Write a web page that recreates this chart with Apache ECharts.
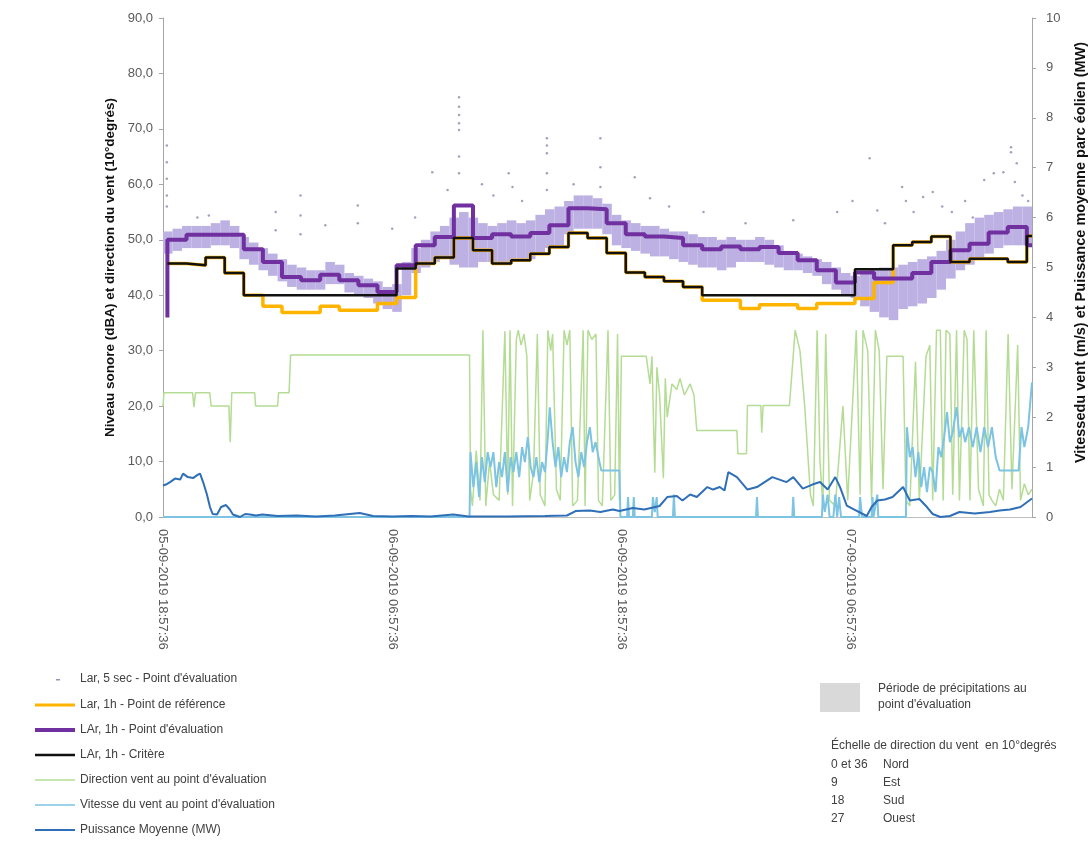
<!DOCTYPE html>
<html>
<head>
<meta charset="utf-8">
<title>Niveau sonore et vent</title>
<script src="https://cdn.jsdelivr.net/npm/echarts/dist/echarts.min.js"></script>
<style>
  html, body { margin: 0; padding: 0; background: #fff; }
  #main { width: 1091px; height: 842px; }
</style>
</head>
<body>
<div id="main"></div>
<script>
// x axis is hours since 05-09-2019 18:57:36
var xMax = 45.5;
var hourStart = 0.23;
var tickLabels = ['05-09-2019 18:57:36', '06-09-2019 06:57:36', '06-09-2019 18:57:36', '07-09-2019 06:57:36'];

// hourly levels (dBA), one value per hour from hourStart
var larRef1h = [45.7, 45.4, 46.8, 44.0, 40.0, 38.0, 36.9, 36.9, 38.0, 37.3, 37.3, 38.5, 39.6,
  45.7, 46.8, 50.3, 48.1, 45.7, 46.3, 47.5, 48.7, 51.2, 50.3, 47.6, 44.1, 43.3, 42.5, 41.5,
  39.1, 39.1, 37.6, 38.3, 38.3, 37.6, 38.5, 38.5, 39.4, 42.3,
  49.0, 49.6, 50.6, 46.0, 46.6, 46.6, 46.0, 50.7];
var larEval1h = [50.0, 50.9, 50.9, 50.9, 48.3, 46.0, 43.3, 42.7, 43.7, 42.7, 41.8, 40.6, 45.4,
  49.0, 50.5, 56.2, 50.3, 51.0, 50.6, 51.2, 52.6, 55.7, 55.5, 53.0, 51.0, 50.6, 50.3, 49.0,
  48.3, 48.8, 48.3, 48.7, 47.6, 46.3, 44.5, 42.3, 44.1, 43.0, 43.0, 44.0, 46.0, 48.1, 49.3,
  51.3, 52.3, 49.0];
var larCritere1h = [45.7, 45.4, 46.8, 44.0, 40.0, 40.0, 40.0, 40.0, 40.0, 40.0, 40.0, 40.0,
  44.8, 45.7, 46.8, 50.3, 48.1, 45.7, 46.3, 47.5, 48.7, 51.2, 50.3, 47.6, 44.1, 43.3, 42.5, 41.5,
  40.0, 40.0, 40.0, 40.0, 40.0, 40.0, 40.0, 40.0, 44.7, 44.7, 49.0, 49.6, 50.6, 46.0, 46.6,
  46.6, 46.0, 50.7];

// 5 sec levels: spread per half hour (low / high)
var band5sLow = [47.5, 48, 48.5, 48.5, 48.5, 49, 49, 48.5, 46.5, 45.5, 44.5, 43.5, 42.5, 41.5,
  41, 41, 41, 42, 42, 40.5, 40, 39.5, 38.5, 37.5, 37, 40, 44, 45, 46, 46.5, 45.5, 45, 45, 46,
  46, 46, 46, 46, 46.5, 47.5, 48.5, 49, 51, 52, 52, 52, 51, 49, 48.5, 48, 47.5, 47, 47, 46.5,
  46, 45.5, 45, 45, 44.5, 45, 46, 46, 46, 45.5, 45, 44.5, 44.5, 44, 43.5, 42, 41, 40, 39.5,
  38, 37, 36, 35.5, 37.5, 38, 38.5, 39.5, 41, 43, 44.5, 45.5, 46.5, 47.5, 48.5, 49, 49, 49];
var band5sHigh = [51.5, 52, 52.5, 52.5, 52.5, 53, 53.5, 52.5, 50.5, 49.5, 48.5, 47.5, 46.5, 45.5,
  45, 44.5, 44.5, 46, 45.5, 44, 43.5, 43, 42.5, 41.5, 42, 46, 48.5, 50, 51.5, 52.5, 54, 55, 54,
  53, 52.5, 53, 53.5, 53, 53.5, 54.5, 55.5, 56, 57, 58, 58, 57.5, 56.5, 54.5, 53.5, 53, 52.5,
  52.5, 52, 51.5, 51.5, 51, 50.5, 50.5, 50, 50.5, 50, 50, 50.5, 50, 49, 48, 47.5, 47, 46.5,
  46, 45, 44, 43.5, 44, 44.5, 45, 45, 45.5, 46, 46.5, 47, 48, 50, 51.5, 53, 54, 54.5, 55,
  55.5, 56, 56];
// isolated 5 sec points [hour, dBA]
var dots5s = [[0.2, 67], [0.2, 64], [0.2, 61], [0.2, 58], [0.2, 56], [1.8, 54], [2.4, 54.4],
  [5.9, 55], [5.9, 51.7], [7.2, 58], [7.2, 54.4], [7.2, 51], [8.5, 52.6], [10.2, 56.2],
  [10.2, 53], [12.0, 52], [13.2, 54], [14.1, 62.2], [14.9, 59], [15.5, 75.7], [15.5, 74],
  [15.5, 72.5], [15.5, 71], [15.5, 69.8], [15.5, 65], [15.5, 62], [16.7, 60], [17.3, 58],
  [18.1, 62], [18.3, 59.5], [18.8, 57], [20.1, 68.3], [20.1, 67], [20.1, 65.6], [20.1, 62],
  [20.1, 59], [21.5, 60], [22.9, 68.3], [22.9, 63.1], [22.9, 59.5], [24.7, 61.3], [25.5, 57.5],
  [26.5, 56], [28.3, 55], [30.5, 53], [33.0, 53.5], [35.3, 55], [36.1, 57], [37.0, 64.7],
  [37.4, 55.3], [37.8, 53], [38.7, 59.5], [38.9, 57], [39.3, 55], [39.8, 57.7], [40.3, 58.6],
  [40.8, 56], [41.3, 55], [42.0, 57], [42.4, 54], [43.0, 60.8], [43.5, 62], [44.0, 62.2],
  [44.4, 66.7], [44.4, 65.8], [44.7, 63.8], [44.6, 60.4], [45.0, 58], [45.3, 57]];

// wind direction (10 degrees) [hour, value]
var windDir = [[0, 20], [0.05, 22.4], [1.55, 22.4], [1.62, 19.8], [1.7, 22.4], [2.45, 22.4],
  [2.52, 20], [3.45, 20], [3.52, 13.5], [3.6, 22.4], [4.8, 22.4], [4.85, 20], [6.0, 20],
  [6.05, 22.4], [6.6, 22.4], [6.68, 29.2], [16.05, 29.2], [16.1, 5], [16.2, 2], [16.4, 12],
  [16.6, 3], [16.75, 33.7], [16.9, 2], [17.1, 10], [17.3, 4], [17.6, 3], [17.9, 33.5],
  [18.05, 4], [18.17, 33.7], [18.3, 2], [18.5, 32], [18.6, 33.7], [18.75, 31], [18.9, 33],
  [19.05, 29], [19.2, 3], [19.4, 8], [19.6, 33], [19.75, 4], [20.0, 2], [20.15, 33.7],
  [20.3, 30], [20.4, 33], [20.6, 5], [20.8, 3], [21.0, 33.7], [21.15, 31], [21.3, 33.7],
  [21.45, 2], [21.7, 3], [22.0, 33.7], [22.1, 2], [22.25, 33.7], [22.45, 32], [22.67, 33],
  [22.8, 3], [23.0, 2], [23.3, 33.7], [23.45, 3], [23.65, 4], [23.8, 33], [23.9, 3], [24.0, 29],
  [25.3, 29], [25.5, 24], [25.6, 29], [25.75, 8], [25.86, 27], [26.0, 22], [26.2, 7], [26.3, 25],
  [26.4, 18], [26.65, 24], [26.9, 23], [27.07, 25], [27.3, 22], [27.6, 24], [27.8, 22],
  [27.95, 15.6], [30.05, 15.6], [30.1, 11.4], [30.55, 11.4], [30.6, 20.1], [31.3, 20.1],
  [31.35, 15.2], [31.42, 20.1], [32.8, 20.1], [33.1, 33.7], [33.35, 30], [33.6, 20], [33.9, 4],
  [34.05, 2], [34.25, 33.7], [34.4, 10], [34.55, 2], [34.7, 33], [34.9, 3], [35.2, 2],
  [35.6, 20], [35.85, 3], [36.3, 33.7], [36.5, 4], [36.65, 33.7], [36.9, 30], [37.1, 3],
  [37.3, 33.7], [37.5, 30], [37.7, 5], [37.9, 29], [38.75, 29], [38.9, 3], [39.1, 2], [39.4, 28],
  [39.6, 3], [39.95, 29], [40.15, 31], [40.3, 3], [40.5, 33.7], [40.7, 33.7], [40.85, 3],
  [41.0, 33.7], [41.2, 33], [41.35, 4], [41.55, 33.7], [41.7, 3], [41.95, 33.7], [42.1, 32],
  [42.25, 3], [42.45, 33.7], [42.7, 5], [42.95, 2], [43.1, 33.7], [43.25, 4], [43.4, 3],
  [43.6, 2], [43.8, 5], [44.0, 3], [44.25, 33], [44.45, 5], [44.75, 31], [44.9, 3], [45.1, 6],
  [45.3, 4], [45.5, 5]];

// wind speed (m/s) [hour, value]
var windSpeed = [[0, 0], [16.05, 0], [16.1, 1.3], [16.25, 0.6], [16.4, 1.1], [16.55, 0.4],
  [16.7, 1.2], [16.85, 0.7], [17.0, 1.3], [17.15, 1.0], [17.3, 1.3], [17.45, 0.6], [17.6, 1.1],
  [17.75, 0.8], [17.9, 1.3], [18.05, 0.5], [18.2, 1.2], [18.35, 0.9], [18.5, 1.3], [18.65, 0.8],
  [18.8, 1.4], [18.95, 1.1], [19.1, 1.6], [19.25, 1.0], [19.4, 0.8], [19.55, 1.2], [19.7, 0.7],
  [19.85, 1.1], [20.0, 0.9], [20.15, 1.6], [20.25, 2.2], [20.4, 1.5], [20.55, 1.0], [20.7, 1.4],
  [20.85, 0.8], [21.0, 1.2], [21.15, 0.9], [21.3, 1.5], [21.45, 1.8], [21.6, 1.1], [21.75, 0.8],
  [21.9, 1.3], [22.05, 1.0], [22.2, 1.5], [22.35, 1.8], [22.5, 1.3], [22.65, 1.5], [22.8, 1.2],
  [22.95, 0.93], [23.9, 0.93], [23.95, 0], [24.3, 0], [24.35, 0.4], [24.4, 0], [24.6, 0],
  [24.65, 0.4], [24.7, 0], [25.6, 0], [25.65, 0.4], [25.75, 0.1], [25.85, 0.4], [25.9, 0],
  [26.7, 0], [26.75, 0.45], [26.8, 0], [31.05, 0], [31.1, 0.4], [31.15, 0], [32.95, 0],
  [33.0, 0.4], [33.05, 0], [34.5, 0], [34.55, 0.45], [34.65, 0.1], [34.8, 0.45], [34.9, 0],
  [35.1, 0], [35.2, 0.45], [35.3, 0], [35.4, 0.4], [35.5, 0], [36.45, 0], [36.5, 0.4], [36.6, 0],
  [37.1, 0], [37.15, 0.4], [37.2, 0], [37.4, 0.45], [37.45, 0], [38.9, 0], [38.95, 1.8],
  [39.1, 1.2], [39.25, 1.4], [39.4, 0.8], [39.55, 1.3], [39.7, 0.6], [39.85, 1.0], [40.0, 0.5],
  [40.15, 1.0], [40.3, 0.9], [40.45, 0.5], [40.6, 1.4], [40.75, 1.2], [40.9, 1.6], [41.05, 2.1],
  [41.2, 1.5], [41.35, 1.7], [41.55, 2.2], [41.7, 1.6], [41.85, 1.8], [42.0, 1.5], [42.2, 1.8],
  [42.4, 1.4], [42.6, 1.8], [42.8, 1.3], [43.0, 1.8], [43.2, 1.4], [43.4, 1.8], [43.6, 1.2],
  [43.8, 0.93], [44.8, 0.93], [44.95, 1.8], [45.1, 1.4], [45.3, 1.8], [45.5, 2.7]];

// mean power of the wind farm (MW) [hour, value]
var power = [[0, 0.63], [0.15, 0.65], [0.37, 0.7], [0.63, 0.77], [0.9, 0.75], [1.05, 0.87],
  [1.3, 0.8], [1.57, 0.78], [1.83, 0.85], [1.94, 0.87], [2.1, 0.7], [2.3, 0.45], [2.46, 0.2],
  [2.6, 0.06], [2.83, 0.05], [3.04, 0.2], [3.3, 0.24], [3.5, 0.15], [3.66, 0.05], [4.03, 0.0],
  [4.3, 0.06], [4.55, 0.05], [4.87, 0.03], [5.2, 0.05], [6, 0.02], [7, 0.03], [8, 0.01],
  [9, 0.03], [10.3, 0.08], [11, 0.02], [12, 0.01], [13, 0.02], [14, 0.01], [15.2, 0.05],
  [16, 0.01], [18, 0.01], [20, 0.02], [21.15, 0.03], [21.6, 0.12], [22.35, 0.13], [22.9, 0.1],
  [23.55, 0.15], [23.9, 0.12], [24.6, 0.18], [25.2, 0.15], [26.0, 0.22], [26.4, 0.4],
  [26.9, 0.42], [27.2, 0.33], [27.6, 0.45], [27.95, 0.4], [28.5, 0.6], [28.8, 0.55],
  [29.15, 0.6], [29.4, 0.53], [29.6, 0.9], [30.05, 0.8], [30.6, 0.55], [31.1, 0.6], [31.5, 0.7],
  [31.9, 0.8], [32.65, 0.7], [33.0, 0.8], [33.5, 0.57], [34.0, 0.65], [34.4, 0.7], [34.8, 0.55],
  [35.2, 0.8], [35.45, 0.6], [35.8, 0.23], [36.2, 0.15], [36.85, 0.02], [37.1, 0.2],
  [37.4, 0.33], [37.8, 0.35], [38.2, 0.4], [38.75, 0.6], [39.1, 0.33], [39.6, 0.36], [40.0, 0.2],
  [40.3, 0.06], [40.7, 0.0], [41.2, 0.02], [41.7, 0.1], [42.5, 0.07], [43.3, 0.1], [43.8, 0.13],
  [44.35, 0.15], [44.9, 0.2], [45.5, 0.37]];

function steps(values) {
  var out = [];
  values.forEach(function (v, k) {
    var t0 = hourStart + k;
    out.push([t0, v], [Math.min(t0 + 1, xMax), v]);
  });
  return out;
}

// legend icon: a horizontal bar of the given thickness inside a 40x14 box
function lineIcon(w) {
  var a = 7 - w / 2, b = 7 + w / 2;
  return 'path://M0,0 M40,14 M0,' + a + ' L40,' + a + ' L40,' + b + ' L0,' + b + ' Z';
}

var bandData = band5sLow.map(function (lo, j) { return [j * 0.5, lo, band5sHigh[j]]; });
var evalSteps = [[hourStart, 36]].concat(steps(larEval1h));

var grey = '#595959';
var font = 'Liberation Sans, Arial, sans-serif';
var myChart = echarts.init(document.getElementById('main'));

var option = {
  animation: false,
  textStyle: { fontFamily: font },
  grid: { left: 163, right: 59, top: 18, bottom: 325, outerBoundsMode: 'none' },
  legend: {
    orient: 'vertical', left: 35, top: 698, padding: 0,
    itemWidth: 40, itemHeight: 14, itemGap: 11,
    textStyle: { fontSize: 12, color: '#404040', fontFamily: font },
    data: [
      { name: 'Lar, 1h - Point de référence', icon: lineIcon(3), itemStyle: { color: '#ffb400', borderWidth: 0 } },
      { name: 'LAr, 1h - Point d\'évaluation', icon: lineIcon(4), itemStyle: { color: '#7030a0', borderWidth: 0 } },
      { name: 'LAr, 1h - Critère', icon: lineIcon(2.5), itemStyle: { color: '#111111', borderWidth: 0 } },
      { name: 'Direction vent au point d\'évaluation', icon: lineIcon(1.5), itemStyle: { color: '#b4dc94', borderWidth: 0 } },
      { name: 'Vitesse du vent au point d\'évaluation', icon: lineIcon(1.5), itemStyle: { color: '#7cc4e2', borderWidth: 0 } },
      { name: 'Puissance Moyenne (MW)', icon: lineIcon(2), itemStyle: { color: '#2e6fb7', borderWidth: 0 } }
    ]
  },
  graphic: [
    { type: 'rect', left: 56, top: 679, shape: { width: 4, height: 1.5 }, style: { fill: '#9a8fc0' } },
    { type: 'text', left: 80, top: 673, style: { text: 'Lar, 5 sec - Point d\'évaluation', fontSize: 12, fill: '#404040', fontFamily: font } },
    { type: 'rect', left: 820, top: 683, shape: { width: 40, height: 29 }, style: { fill: '#d9d9d9' } },
    { type: 'text', left: 878, top: 681, style: { text: 'Période de précipitations au\npoint d\'évaluation', fontSize: 12, lineHeight: 16, fill: '#404040', fontFamily: font } },
    { type: 'text', left: 831, top: 740, style: { text: 'Échelle de direction du vent  en 10°degrés', fontSize: 12, fill: '#404040', fontFamily: font } },
    { type: 'text', left: 831, top: 756, style: { text: '0 et 36\n9\n18\n27', fontSize: 12, lineHeight: 18, fill: '#404040', fontFamily: font } },
    { type: 'text', left: 883, top: 756, style: { text: 'Nord\nEst\nSud\nOuest', fontSize: 12, lineHeight: 18, fill: '#404040', fontFamily: font } }
  ],
  xAxis: {
    type: 'value', min: 0, max: xMax, interval: 12,
    axisLine: { lineStyle: { color: '#bfbfbf' } },
    axisTick: { show: false },
    splitLine: { show: false },
    axisLabel: {
      rotate: -90, margin: 12, fontSize: 13, color: grey,
      formatter: function (v) {
        var i = Math.round(v / 12);
        return (Math.abs(v - i * 12) < 1e-6 && tickLabels[i]) ? tickLabels[i] : '';
      }
    }
  },
  yAxis: [
    {
      type: 'value', min: 0, max: 90, interval: 10,
      name: 'Niveau sonore (dBA) et direction du vent (10°degrés)',
      nameLocation: 'middle', nameGap: 43,
      nameTextStyle: { fontSize: 13.5, fontWeight: 'bold', color: '#111' },
      axisLine: { show: true, lineStyle: { color: '#a6a6a6' } },
      axisTick: { show: true, length: 4, lineStyle: { color: '#a6a6a6' } },
      splitLine: { show: false },
      axisLabel: {
        fontSize: 13, color: grey, margin: 10,
        formatter: function (v) { return v.toFixed(1).replace('.', ','); }
      }
    },
    {
      type: 'value', min: 0, max: 10, interval: 1, position: 'right',
      name: 'Vitessedu vent (m/s) et Puissance moyenne parc éolien (MW)',
      nameLocation: 'middle', nameGap: 41, nameRotate: 90,
      nameTextStyle: { fontSize: 14.5, fontWeight: 'bold', color: '#111', padding: [0, 0, 0, 30] },
      axisLine: { show: true, lineStyle: { color: '#a6a6a6' } },
      axisTick: { show: true, length: 4, lineStyle: { color: '#a6a6a6' } },
      splitLine: { show: false },
      axisLabel: { fontSize: 13, color: grey, margin: 14 }
    }
  ],
  series: [
    {
      name: 'Lar, 5 sec - Point d\'évaluation',
      type: 'custom',
      z: 1,
      data: bandData,
      renderItem: function (params, api) {
        var p0 = api.coord([api.value(0), api.value(2)]);
        var p1 = api.coord([api.value(0) + 0.5, api.value(1)]);
        return {
          type: 'rect',
          shape: { x: p0[0], y: p0[1], width: p1[0] - p0[0], height: p1[1] - p0[1] },
          style: { fill: '#bdb0e2' }
        };
      }
    },
    {
      name: 'Lar, 5 sec - Point d\'évaluation',
      type: 'scatter', z: 2,
      symbolSize: 2.5,
      itemStyle: { color: '#8f88aa' },
      data: dots5s
    },
    {
      name: 'Lar, 1h - Point de référence',
      type: 'line', z: 3, symbol: 'none',
      lineStyle: { color: '#ffb400', width: 3.5 },
      itemStyle: { color: '#ffb400' },
      data: steps(larRef1h)
    },
    {
      name: 'LAr, 1h - Point d\'évaluation',
      type: 'line', z: 4, symbol: 'none',
      lineStyle: { color: '#7030a0', width: 4 },
      itemStyle: { color: '#7030a0' },
      data: evalSteps
    },
    {
      name: 'LAr, 1h - Critère',
      type: 'line', z: 5, symbol: 'none',
      lineStyle: { color: '#111111', width: 2.5 },
      itemStyle: { color: '#111111' },
      data: steps(larCritere1h)
    },
    {
      name: 'Direction vent au point d\'évaluation',
      type: 'line', z: 2, symbol: 'none',
      lineStyle: { color: '#b4dc94', width: 1.5 },
      itemStyle: { color: '#b4dc94' },
      data: windDir
    },
    {
      name: 'Vitesse du vent au point d\'évaluation',
      type: 'line', z: 3, symbol: 'none', yAxisIndex: 1,
      lineStyle: { color: '#7cc4e2', width: 2 },
      itemStyle: { color: '#7cc4e2' },
      data: windSpeed
    },
    {
      name: 'Puissance Moyenne (MW)',
      type: 'line', z: 4, symbol: 'none', yAxisIndex: 1,
      lineStyle: { color: '#2e6fb7', width: 2 },
      itemStyle: { color: '#2e6fb7' },
      data: power
    }
  ]
};

myChart.setOption(option);
</script>
</body>
</html>
